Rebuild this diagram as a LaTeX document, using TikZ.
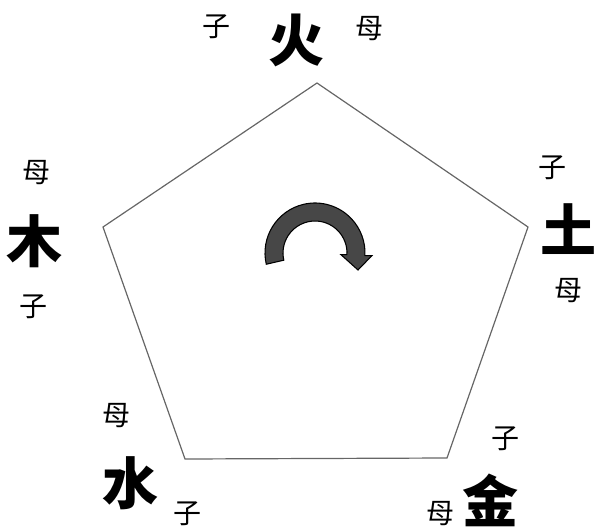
\documentclass[tikz,border=0pt]{standalone}
\usepackage{fontspec}
\newfontfamily\cjk{Noto Sans CJK SC}
\usetikzlibrary{positioning}

\begin{document}
\begin{tikzpicture}[
      x=0.75pt, y=0.75pt,
      elem/.style={font=\cjk\bfseries\fontsize{42}{42}\selectfont, inner sep=0pt},
      rel/.style={font=\cjk\fontsize{21}{21}\selectfont, inner sep=0pt},
      edge/.style={draw=black!60, line width=0.9pt, line join=miter},
      turn/.style={draw=black, fill=black!72, line width=0.8pt, line join=miter}]

    \useasboundingbox (0,0) rectangle (595,529);

    % corners of the pentagon
    \coordinate (fire)  at (317,446);
    \coordinate (earth) at (528,302);
    \coordinate (metal) at (447,71);
    \coordinate (water) at (185,70);
    \coordinate (wood)  at (103,302);

    \draw[edge] (fire) -- (earth) -- (metal) -- (water) -- (wood) -- cycle;

    % elements
    \node[elem] (fireL)  at (296,489) {火};
    \node[elem] (earthL) at (568,300) {土};
    \node[elem] (metalL) at (490,29)  {金};
    \node[elem] (waterL) at (130,46)  {水};
    \node[elem] (woodL)  at (35,288)  {木};

    % child / mother marks
    \node[rel] (fireC)  at (216,502) {子};
    \node[rel] (fireM)  at (369,500) {母};
    \node[rel] (earthC) at (552,361) {子};
    \node[rel] (earthM) at (568,238) {母};
    \node[rel] (metalC) at (505,90)  {子};
    \node[rel] (metalM) at (440,15)  {母};
    \node[rel] (waterM) at (116,113) {母};
    \node[rel] (waterC) at (187,15)  {子};
    \node[rel] (woodM)  at (36,356)  {母};
    \node[rel] (woodC)  at (33,222)  {子};

    % turning arrow
    \coordinate (hub) at (315,276);
    \coordinate (tip) at (358,259);
    \draw[turn] ([shift={(193:50)}]hub) arc[start angle=193, end angle=-3, radius=50]
      -- ([shift={(-3:50)}, xshift=5.25pt]hub) -- (tip)
      -- ([shift={(-3:32)}, xshift=-4.5pt]hub)
      -- ([shift={(-3:32)}]hub) arc[start angle=-3, end angle=193, radius=32] -- cycle;
  \end{tikzpicture}
\end{document}
